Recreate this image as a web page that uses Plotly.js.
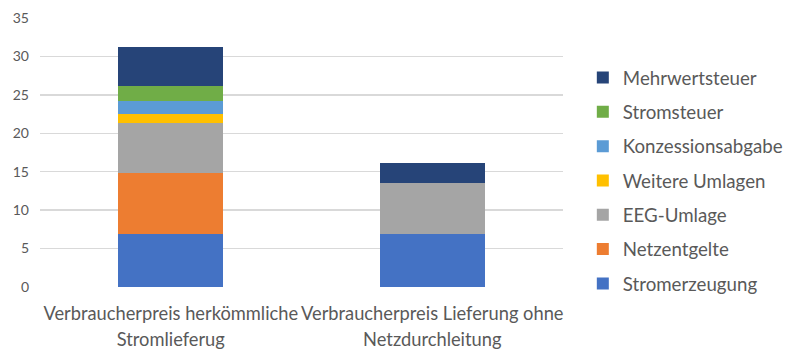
<!DOCTYPE html>
<html>
<head>
<meta charset="utf-8">
<script src="https://cdn.plot.ly/plotly-3.0.1.min.js"></script>
<style>html,body{margin:0;padding:0;background:#fff;}#chart{width:800px;height:361px;}</style>
</head>
<body>
<div id="chart"></div>
<script>
const categories = ["cat1", "cat2"];
const categoryLines = [["Verbraucherpreis herkömmliche", "Stromlieferug"], ["Verbraucherpreis Lieferung ohne", "Netzdurchleitung"]];
const seriesNames = ["Stromerzeugung", "Netzentgelte", "EEG-Umlage", "Weitere Umlagen", "Konzessionsabgabe", "Stromsteuer", "Mehrwertsteuer"];
const stromerzeugung = [6.93, 6.93];
const netzentgelte = [7.93, 0];
const eegUmlage = [6.5, 6.54];
const weitereUmlagen = [1.09, 0];
const konzessionsabgabe = [1.69, 0];
const stromsteuer = [2.05, 0];
const mehrwertsteuer = [4.98, 2.65];
const seriesValues = [stromerzeugung, netzentgelte, eegUmlage, weitereUmlagen, konzessionsabgabe, stromsteuer, mehrwertsteuer];
const colors = ["#4472C4", "#ED7D31", "#A5A5A5", "#FFC000", "#5B9BD5", "#70AD47", "#264478"];
const yTicks = [0, 5, 10, 15, 20, 25, 30, 35];

const font = "Lato, 'Open Sans', sans-serif";
const traces = seriesNames.map((n, i) => ({
  type: "bar", name: n, x: categories, y: seriesValues[i],
  marker: {color: colors[i], line: {width: 0}},
  legendgroup: "g" + i, legendrank: 100 - i, hoverinfo: "name+y"
}));
const tickText = categoryLines.map(l => l.map(s => '<span style="font-size:18.3px">' + s + '</span>').join("<br>"));

const layout = {
  width: 800, height: 361,
  margin: {l: 40, r: 219, t: 18, b: 74, pad: 0},
  paper_bgcolor: "#fff", plot_bgcolor: "#fff",
  barmode: "stack", bargap: 0.6,
  font: {family: font, color: "#595959"},
  showlegend: true,
  legend: {traceorder: "grouped", tracegroupgap: 7, x: 1.0379, xanchor: "left", y: 0.848, yanchor: "top",
           font: {family: font, size: 18.7, color: "#595959"}, bgcolor: "rgba(0,0,0,0)"},
  xaxis: {type: "category", tickvals: categories, ticktext: tickText, showgrid: false, zeroline: false,
          showline: false, ticks: "", tickfont: {family: font, size: 19.4, color: "#595959"}, ticklabelstandoff: 13, fixedrange: true},
  yaxis: {range: [0, 35], tickvals: yTicks, showgrid: true, gridcolor: "#D9D9D9", gridwidth: 1.3, zeroline: false,
          showline: false, ticks: "", tickfont: {family: font, size: 14, color: "#595959"}, ticklabelstandoff: 10, fixedrange: true}
};
Plotly.newPlot("chart", traces, layout, {displayModeBar: false, staticPlot: true});
</script>
</body>
</html>
